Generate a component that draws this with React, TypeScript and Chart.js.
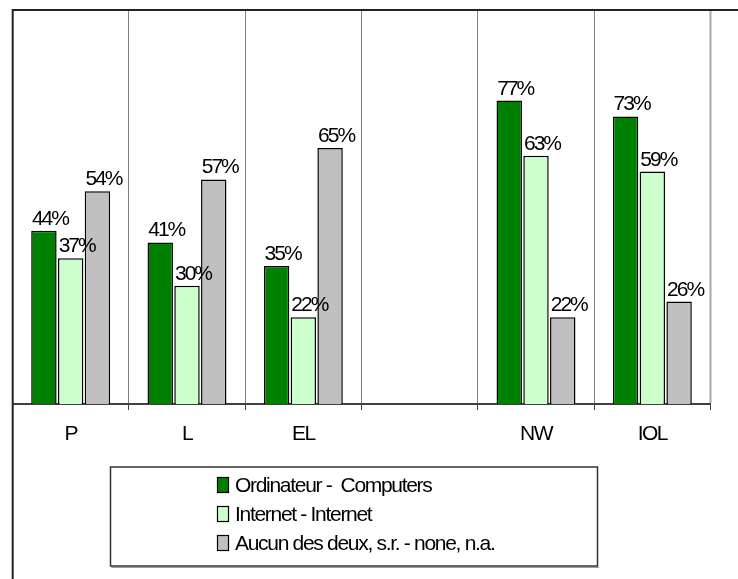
import React, { useEffect, useRef } from 'react';
import { Chart, registerables } from 'chart.js';

Chart.register(...registerables);

const categories = ['P', 'L', 'EL', '', 'NW', 'IOL'];
const seriesLabels = ['Ordinateur -  Computers', 'Internet - Internet', 'Aucun des deux, s.r. - none, n.a.'];
const computers = [44, 41, 35, null, 77, 73];
const internet = [37, 30, 22, null, 63, 59];
const none = [54, 57, 65, null, 22, 26];

const seriesColors = ['#008000', '#CCFFCC', '#C0C0C0'];

const FONT = '"Liberation Sans", Arial, sans-serif';
const W = 738;
const H = 579;
const PLOT_BOTTOM = 404;

const customPlugin = {
  id: 'custom',
  beforeDraw(chart: any) {
    const ctx = chart.ctx;
    try { ctx.letterSpacing = '-1.5px'; } catch (e) {}
  },
  afterDatasetsDraw(chart: any) {
    const ctx = chart.ctx;
    ctx.save();
    try { ctx.letterSpacing = '-2px'; } catch (e) {}
    ctx.font = `21px ${FONT}`;
    ctx.fillStyle = '#000';
    ctx.textAlign = 'center';
    ctx.textBaseline = 'alphabetic';
    chart.data.datasets.forEach((ds: any, i: number) => {
      const meta = chart.getDatasetMeta(i);
      meta.data.forEach((bar: any, j: number) => {
        const v = ds.data[j];
        if (v == null) return;
        ctx.fillText(`${v}%`, bar.x + 6, bar.y - 6);
      });
    });
    ctx.restore();
  },
  afterDraw(chart: any) {
    const ctx = chart.ctx;
    const ca = chart.chartArea;
    ctx.save();
    // right border of plot area
    ctx.strokeStyle = '#A8A8A8';
    ctx.lineWidth = 2;
    ctx.beginPath();
    ctx.moveTo(ca.right, ca.top);
    ctx.lineTo(ca.right, ca.bottom - 1);
    ctx.stroke();
    // outer frame (left and top)
    ctx.strokeStyle = '#222';
    ctx.lineWidth = 2;
    ctx.beginPath();
    ctx.moveTo(12.7, H);
    ctx.lineTo(12.7, 10);
    ctx.lineTo(W, 10);
    ctx.stroke();

    // legend
    const lx = 110.5, ly = 467, lw = 487, lh = 99;
    ctx.strokeStyle = '#333';
    ctx.lineWidth = 1.5;
    ctx.strokeRect(lx, ly, lw, lh);
    ctx.strokeStyle = '#999';
    ctx.lineWidth = 1;
    ctx.beginPath();
    ctx.moveTo(lx + 1, ly + lh + 1.5);
    ctx.lineTo(lx + lw + 1.5, ly + lh + 1.5);
    ctx.stroke();

    try { ctx.letterSpacing = '-1.3px'; } catch (e) {}
    ctx.font = `21px ${FONT}`;
    ctx.textAlign = 'left';
    ctx.textBaseline = 'middle';
    const rows = [485, 514, 543];
    chart.data.datasets.forEach((ds: any, i: number) => {
      const cy = rows[i];
      ctx.fillStyle = ds.backgroundColor;
      ctx.fillRect(217.5, cy - 7.5, 11, 15);
      ctx.strokeStyle = '#000';
      ctx.lineWidth = 1.2;
      ctx.strokeRect(217.5, cy - 7.5, 11, 15);
      ctx.fillStyle = '#000';
      ctx.fillText(ds.label, 235, cy + 1);
    });
    ctx.restore();
  },
};

export default function App() {
  const ref = useRef<HTMLCanvasElement | null>(null);

  useEffect(() => {
    if (!ref.current) return;
    const data = [computers, internet, none];
    const chart = new Chart(ref.current, {
      type: 'bar',
      data: {
        labels: categories,
        datasets: data.map((d, i) => ({
          label: seriesLabels[i],
          data: d,
          backgroundColor: seriesColors[i],
          borderColor: '#000',
          borderWidth: 1.5,
          categoryPercentage: 0.69,
          barPercentage: 0.95,
        })),
      },
      options: {
        animation: false,
        responsive: false,
        maintainAspectRatio: false,
        layout: { padding: { left: 12.5, right: W - 710.5, top: 10, bottom: 0 } },
        plugins: {
          legend: { display: false },
          tooltip: { enabled: false },
          title: { display: false },
        },
        scales: {
          x: {
            grid: {
              offset: true,
              color: '#808080',
              lineWidth: 1,
              tickLength: 6,
              tickColor: '#404040',
              drawOnChartArea: true,
            },
            border: { display: true, color: '#404040', width: 2 },
            ticks: {
              color: '#000',
              font: { family: FONT, size: 21 },
              padding: 12,
              maxRotation: 0,
              autoSkip: false,
            },
            afterFit: (s: any) => {
              s.height = H - PLOT_BOTTOM;
            },
          },
          y: { display: false, min: 0, max: 100 },
        },
      } as any,
      plugins: [customPlugin],
    });
    return () => chart.destroy();
  }, []);

  return (
    <div style={{ position: 'fixed', left: 0, top: 0, width: W, height: H, background: '#fff' }}>
      <canvas ref={ref} width={W} height={H} style={{ width: W, height: H, display: 'block' }} />
    </div>
  );
}
